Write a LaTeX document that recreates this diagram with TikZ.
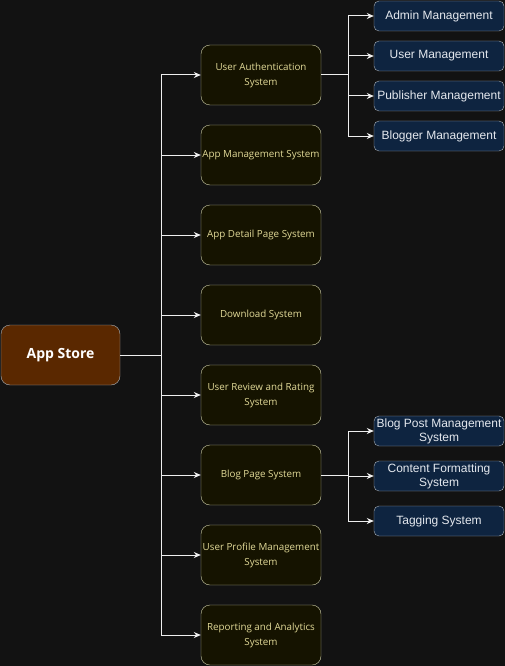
\documentclass[tikz,border=0pt]{standalone}
\usepackage{fontspec}
\setmainfont{Liberation Sans}
\newfontfamily\boxfont{Open Sans}
\usetikzlibrary{arrows.meta}
\definecolor{canvas}{HTML}{121212}
\definecolor{rootfill}{HTML}{5A2800}
\definecolor{midfill}{HTML}{151300}
\definecolor{midline}{HTML}{CFCFA8}
\definecolor{midtext}{HTML}{E2DA98}
\definecolor{leaffill}{HTML}{0E2440}
\definecolor{leafline}{HTML}{A9B0B8}
\definecolor{leaftext}{HTML}{E4E8EE}
\definecolor{wire}{HTML}{EEEEEE}

\begin{document}
\begin{tikzpicture}[x=1pt,y=-1pt,
    rootbox/.style={draw=leafline,fill=rootfill,rounded corners=9pt,minimum width=119pt,minimum height=60pt,
        text=white,font=\boxfont\bfseries\fontsize{14}{16}\selectfont,inner sep=0pt},
    midbox/.style={draw=midline,fill=midfill,rounded corners=9pt,minimum width=120pt,minimum height=60pt,
        text=midtext,font=\boxfont\fontsize{9.8}{15}\selectfont,align=center,inner sep=0pt},
    leafbox/.style={draw=leafline,fill=leaffill,rounded corners=5pt,minimum width=130pt,minimum height=30pt,
        text=leaftext,font=\fontsize{12}{14}\selectfont,align=center,inner sep=0pt},
    link/.style={draw=wire,line width=1pt,-{Stealth[length=7pt,width=6pt]}}]
                \useasboundingbox[fill=canvas] (0,0) rectangle (505,666);
                % root
                \node[rootbox] (app) at (60.5,355) {App Store};
                % subsystems
                \node[midbox] (auth) at (261,75) {User Authentication\\System};
                \node[midbox] (mgmt) at (261,155) {App Management System};
                \node[midbox] (detail) at (261,235) {App Detail Page System};
                \node[midbox] (down) at (261,315) {Download System};
                \node[midbox] (review) at (261,395) {User Review and Rating\\System};
                \node[midbox] (blog) at (261,475) {Blog Page System};
                \node[midbox] (profile) at (261,555) {User Profile Management\\System};
                \node[midbox] (report) at (261,635) {Reporting and Analytics\\System};
                % user authentication parts
                \node[leafbox] (admin) at (439,16) {Admin Management};
                \node[leafbox] (users) at (439,56) {User Management};
                \node[leafbox] (pub) at (439,96) {Publisher Management};
                \node[leafbox] (blogger) at (439,136) {Blogger Management};
                % blog parts
                \node[leafbox] (post) at (439,431) {Blog Post Management\\System};
                \node[leafbox] (format) at (439,476) {Content Formatting\\System};
                \node[leafbox] (tag) at (439,521) {Tagging System};
                % connectors
                \draw[link] (app.east) -- ++(41,0) |- (auth.west);
                \draw[link] (app.east) -- ++(41,0) |- (mgmt.west);
                \draw[link] (app.east) -- ++(41,0) |- (detail.west);
                \draw[link] (app.east) -- ++(41,0) |- (down.west);
                \draw[link] (app.east) -- ++(41,0) |- (review.west);
                \draw[link] (app.east) -- ++(41,0) |- (blog.west);
                \draw[link] (app.east) -- ++(41,0) |- (profile.west);
                \draw[link] (app.east) -- ++(41,0) |- (report.west);
                \draw[link] (auth.east) -- ++(27,0) |- (admin.west);
                \draw[link] (auth.east) -- ++(27,0) |- (users.west);
                \draw[link] (auth.east) -- ++(27,0) |- (pub.west);
                \draw[link] (auth.east) -- ++(27,0) |- (blogger.west);
                \draw[link] (blog.east) -- ++(27,0) |- (post.west);
                \draw[link] (blog.east) -- ++(27,0) |- (format.west);
                \draw[link] (blog.east) -- ++(27,0) |- (tag.west);
            \end{tikzpicture}
\end{document}
